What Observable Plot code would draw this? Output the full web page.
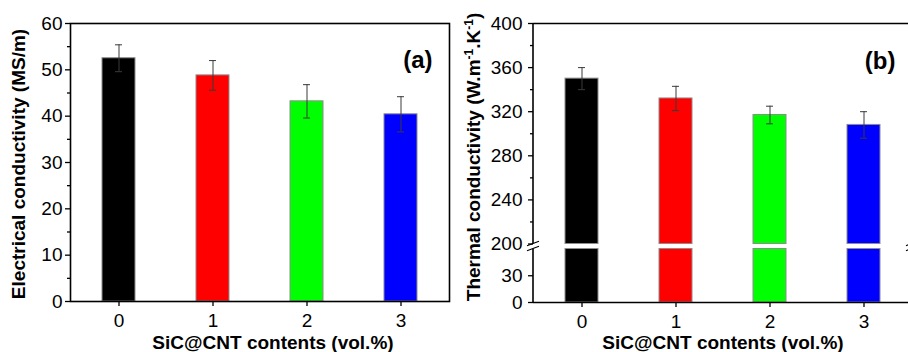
<!DOCTYPE html>
<html><head><meta charset="utf-8">
<script src="https://cdn.jsdelivr.net/npm/d3@7"></script>
<script src="https://cdn.jsdelivr.net/npm/@observablehq/plot@0.6"></script>
<style>
html,body{margin:0;padding:0;background:#fff;}
#wrap{position:relative;width:908px;height:352px;overflow:hidden;font-family:"Liberation Sans",Arial,sans-serif;}
#wrap svg{position:absolute;top:0;max-width:none;}
</style></head><body><div id="wrap"></div>
<script>
// ---- data ----
const categories = [0, 1, 2, 3];
const barColors = ["#000000", "#ff0000", "#00ff00", "#0000ff"];
const elecValues = [52.5, 48.8, 43.2, 40.4];
const elecErrors = [2.9, 3.2, 3.6, 3.8];
const thermValues = [350, 332, 317, 308];
const thermErrors = [10, 11, 8, 12];
const elecTicks = [0, 10, 20, 30, 40, 50, 60];
const elecMinorTicks = [5, 15, 25, 35, 45, 55];
const thermTicks = [0, 30, 200, 240, 280, 320, 360, 400];
const thermMinorTicks = [220, 260, 300, 340, 380];
const thermBreak = [60, 200];
const thermMax = 400;
const elecMax = 60;
const xLabel = "SiC@CNT contents (vol.%)";
const elecLabel = "Electrical conductivity (MS/m)";
const panelLabels = ["(a)", "(b)"];

const elec = categories.map((c, i) => ({cat: c, value: elecValues[i], err: elecErrors[i], color: barColors[i]}));
const therm = categories.map((c, i) => ({cat: c, value: thermValues[i], err: thermErrors[i], color: barColors[i]}));

const FONT = '"Liberation Sans", Arial, sans-serif';
const xScale = {type: "band", domain: categories, paddingInner: 0.65, paddingOuter: 0.325, axis: null};
const barStyle = {fill: "color", stroke: "#8c8c8c", strokeWidth: 1};
const errStyle = {stroke: "#3a3a3a", strokeWidth: 1};
const svgStyle = {fontFamily: FONT, fontSize: "19px", background: "transparent", overflow: "visible", color: "#000"};

function errorMarks(data) {
  return [
    Plot.ruleX(data, {x: "cat", y1: d => d.value - d.err, y2: d => d.value + d.err, ...errStyle}),
    Plot.tickY(data, {x: "cat", y: d => d.value + d.err, insetLeft: 13, insetRight: 13, ...errStyle}),
    Plot.tickY(data, {x: "cat", y: d => d.value - d.err, insetLeft: 13, insetRight: 13, ...errStyle})
  ];
}

const wrap = document.getElementById("wrap");

// ---- panel (a) ----
const pa = Plot.plot({
  width: 454, height: 352,
  marginLeft: 70, marginRight: 5, marginTop: 23, marginBottom: 51,
  style: svgStyle,
  color: {type: "identity"},
  x: xScale,
  y: {domain: [0, elecMax], axis: null},
  marks: [
    Plot.barY(elec, {x: "cat", y: "value", ...barStyle}),
    ...errorMarks(elec),
    Plot.frame({stroke: "#000", strokeWidth: 1.6}),
    Plot.axisY({ticks: elecTicks, tickSize: 5, tickPadding: 3, fontSize: 19, label: null, strokeWidth: 1.3}),
    Plot.axisY({ticks: elecMinorTicks, tickSize: 3, text: null, label: null, strokeWidth: 1.3}),
    Plot.axisX({ticks: categories, tickSize: 5, tickPadding: 7, fontSize: 19, label: null, strokeWidth: 1.3}),
    Plot.text([panelLabels[0]], {frameAnchor: "top-right", dx: -17, dy: 27, fontSize: 24, fontWeight: "bold", textAnchor: "end"})
  ]
});
pa.style.left = "0px";
{
  const s = d3.select(pa);
  s.append("text").attr("transform", "translate(25,164) rotate(-90)")
    .attr("text-anchor", "middle").attr("font-weight", "bold").attr("font-size", 19)
    .attr("font-family", FONT).attr("fill", "#000").text(elecLabel);
  s.append("text").attr("x", 273).attr("y", 349)
    .attr("text-anchor", "middle").attr("font-weight", "bold").attr("font-size", 19)
    .attr("font-family", FONT).attr("fill", "#000").text(xLabel);
}
wrap.appendChild(pa);

// ---- panel (b): broken axis drawn as two stacked plots ----
function sideLines(breakValue) {
  return (index, scales, values, dims) => {
    const xl = dims.marginLeft, xr = dims.width - dims.marginRight;
    const y0 = dims.marginTop, y1 = dims.height - dims.marginBottom;
    const yb = scales.y(breakValue);
    const g = d3.create("svg:g").attr("stroke", "#000").attr("fill", "none");
    for (const x0 of [xl, xr]) {
      g.append("line").attr("x1", x0).attr("x2", x0).attr("y1", y0).attr("y2", y1).attr("stroke-width", 1.6);
      g.append("line").attr("x1", x0 - 6).attr("y1", yb + 2.2).attr("x2", x0 + 6).attr("y2", yb - 2.2).attr("stroke-width", 1.2);
    }
    return g.node();
  };
}

const pbTop = Plot.plot({
  width: 460, height: 352,
  marginLeft: 79, marginRight: 2, marginTop: 23, marginBottom: 108.5,
  style: svgStyle,
  color: {type: "identity"},
  x: xScale,
  y: {domain: [thermBreak[1], thermMax], axis: null},
  marks: [
    Plot.barY(therm, {x: "cat", y1: thermBreak[1], y2: "value", ...barStyle}),
    ...errorMarks(therm),
    Plot.ruleY([thermMax], {stroke: "#000", strokeWidth: 1.6}),
    sideLines(thermBreak[1]),
    Plot.axisY({ticks: thermTicks.filter(t => t >= thermBreak[1]), tickSize: 5, tickPadding: 6, fontSize: 19, label: null, strokeWidth: 1.3}),
    Plot.axisY({ticks: thermMinorTicks, tickSize: 3, text: null, label: null, strokeWidth: 1.3}),
    Plot.text([panelLabels[1]], {frameAnchor: "top-right", dx: -17, dy: 28, fontSize: 24, fontWeight: "bold", textAnchor: "end"})
  ]
});

const pbBot = Plot.plot({
  width: 460, height: 352,
  marginLeft: 79, marginRight: 2, marginTop: 248.5, marginBottom: 50,
  style: svgStyle,
  color: {type: "identity"},
  x: xScale,
  y: {domain: [0, thermBreak[0]], axis: null},
  marks: [
    Plot.barY(therm, {x: "cat", y1: 0, y2: thermBreak[0], ...barStyle}),
    Plot.ruleY([0], {stroke: "#000", strokeWidth: 1.6}),
    sideLines(thermBreak[0]),
    Plot.axisY({ticks: thermTicks.filter(t => t <= thermBreak[0]), tickSize: 5, tickPadding: 6, fontSize: 19, label: null, strokeWidth: 1.3}),
    Plot.axisX({ticks: categories, tickSize: 5, tickPadding: 7, fontSize: 19, label: null, strokeWidth: 1.3})
  ]
});
pbTop.style.left = "454px";
pbBot.style.left = "454px";
{
  const s = d3.select(pbBot);
  const t = s.append("text").attr("transform", "translate(26,157) rotate(-90)")
    .attr("text-anchor", "middle").attr("font-weight", "bold").attr("font-size", 19)
    .attr("font-family", FONT).attr("fill", "#000");
  t.append("tspan").text("Thermal conductivity (W.m");
  t.append("tspan").attr("font-size", 12).attr("dy", -7).text("-1");
  t.append("tspan").attr("dy", 7).text(".K");
  t.append("tspan").attr("font-size", 12).attr("dy", -7).text("-1");
  t.append("tspan").attr("dy", 7).text(")");
  s.append("text").attr("x", 269).attr("y", 349)
    .attr("text-anchor", "middle").attr("font-weight", "bold").attr("font-size", 19)
    .attr("font-family", FONT).attr("fill", "#000").text(xLabel);
}
wrap.appendChild(pbBot);
wrap.appendChild(pbTop);
</script>
</body></html>
